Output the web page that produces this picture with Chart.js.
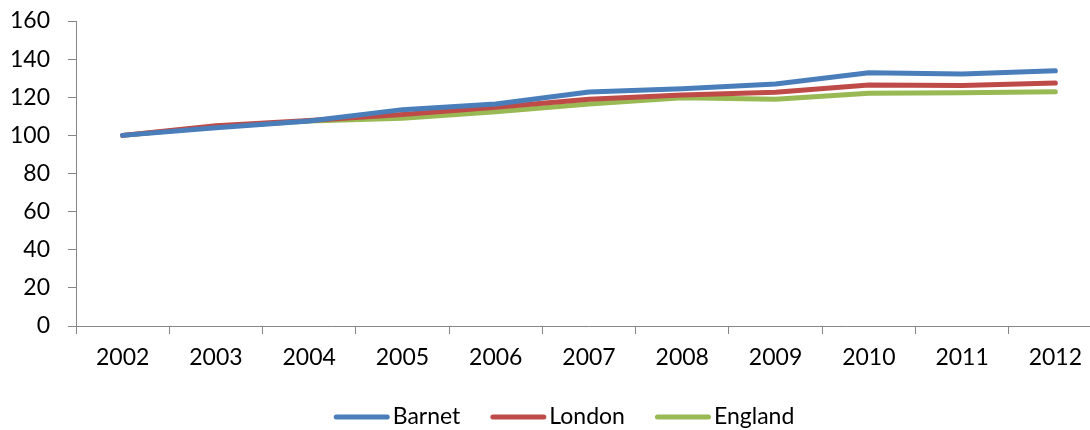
<!DOCTYPE html>
<html>
<head>
<meta charset="utf-8">
<script src="https://cdn.jsdelivr.net/npm/chart.js@4/dist/chart.umd.min.js"></script>
<style>
  html, body { margin: 0; padding: 0; background: #fff; overflow: hidden; }
  #wrap { position: relative; width: 1112px; height: 430px; }
</style>
</head>
<body>
<div id="wrap"><canvas id="c"></canvas></div>
<script>
// Index values (2002 = 100)
const years = ['2002','2003','2004','2005','2006','2007','2008','2009','2010','2011','2012'];
const barnet  = [100, 104, 107.5, 113.5, 116.5, 122.7, 124.5, 127.0, 132.8, 132.2, 133.9];
const london  = [100, 105, 107.8, 111.0, 114.7, 119.0, 121.2, 122.6, 126.4, 126.2, 127.5];
const england = [100, 104.5, 107.5, 109.0, 112.4, 116.4, 119.7, 118.9, 122.1, 122.4, 122.9];
const yTicks  = [0, 20, 40, 60, 80, 100, 120, 140, 160];

const FONT = { family: 'Lato, "Open Sans", sans-serif', size: 23 };
const AXIS = '#868686';

function series(label, data, color) {
  return {
    label, data,
    borderColor: color, backgroundColor: color,
    borderWidth: 5, borderCapStyle: 'round', borderJoinStyle: 'round',
    pointRadius: 0, pointHoverRadius: 0, tension: 0, fill: false
  };
}

// Legend row under the axis: short round-capped line followed by the series name
const lineLegend = {
  id: 'lineLegend',
  afterDraw(chart, args, opts) {
    const ctx = chart.ctx;
    const font = `${FONT.size}px ${FONT.family}`;
    ctx.save();
    ctx.font = font;
    const items = chart.data.datasets.map(ds => ({
      label: ds.label, color: ds.borderColor, w: ctx.measureText(ds.label).width
    }));
    const total = items.reduce((s, it) => s + opts.lineLen + opts.gap + it.w, 0)
                + opts.spacing * (items.length - 1);
    let x = opts.centerX - total / 2;
    const y = opts.y;
    items.forEach(it => {
      ctx.beginPath();
      ctx.lineCap = 'round';
      ctx.lineWidth = 5;
      ctx.strokeStyle = it.color;
      ctx.moveTo(x + 2.5, y);
      ctx.lineTo(x + opts.lineLen - 2.5, y);
      ctx.stroke();
      x += opts.lineLen + opts.gap;
      ctx.fillStyle = '#000';
      ctx.textBaseline = 'middle';
      ctx.textAlign = 'left';
      ctx.fillText(it.label, x, y);
      x += it.w + opts.spacing;
    });
    ctx.restore();
  }
};

new Chart(document.getElementById('c'), {
  type: 'line',
  data: {
    labels: years,
    datasets: [
      series('Barnet', barnet, '#4A7EBB'),
      series('London', london, '#BE4B48'),
      series('England', england, '#98B954')
    ]
  },
  plugins: [lineLegend],
  options: {
    responsive: true,
    maintainAspectRatio: false,
    animation: false,
    layout: { padding: { top: 21, right: 10, bottom: 35, left: 0 } },
    plugins: {
      tooltip: { enabled: false },
      legend: { display: false },
      lineLegend: { centerX: 564, y: 417, lineLen: 56, gap: 3, spacing: 30 }
    },
    scales: {
      x: {
        offset: true,
        grid: { offset: true, drawOnChartArea: false, drawTicks: true, tickLength: 8, color: AXIS },
        border: { color: AXIS, width: 1 },
        ticks: { color: '#000', font: FONT, padding: 10, maxRotation: 0, autoSkip: false },
        afterFit(scale) { scale.height = 69; scale.paddingLeft = 0; scale.paddingRight = 0; }
      },
      y: {
        min: 0, max: 160,
        afterBuildTicks(scale) { scale.ticks = yTicks.map(v => ({ value: v })); },
        grid: { drawOnChartArea: false, drawTicks: true, tickLength: 8, color: AXIS },
        border: { color: AXIS, width: 1 },
        ticks: { color: '#000', font: FONT, padding: 18 },
        afterFit(scale) { scale.width = 76; scale.paddingTop = 0; scale.paddingBottom = 0; }
      }
    }
  }
});
</script>
</body>
</html>
